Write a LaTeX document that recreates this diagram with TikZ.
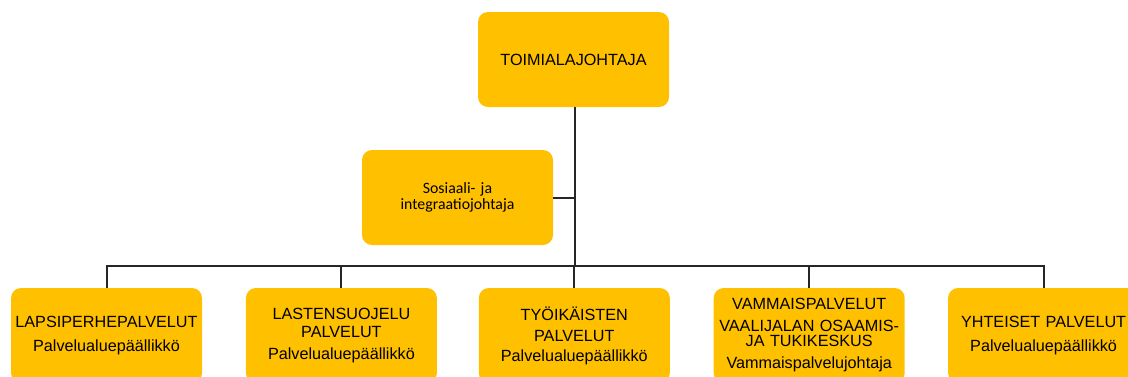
\documentclass[tikz,border=0pt]{standalone}
\usepackage{fontspec}
\setmainfont{Liberation Sans}
\newfontfamily\calibri{Carlito}
\usetikzlibrary{positioning}
\definecolor{gold}{HTML}{FFC000}
\tikzstyle{unit} = [fill=gold, rounded corners=10pt, minimum width=191pt, minimum height=95pt, text width=189pt, align=center, inner sep=0pt, font=\fontsize{16.2}{18}\selectfont]
\tikzstyle{link} = [line width=2pt, black!85]

\begin{document}
\begin{tikzpicture}[x=1pt, y=-1pt]
        \useasboundingbox (0,0) rectangle (1128,376);
        %Blocks
        \node [unit] (head) at (573.5,59.5) {TOIMIALAJOHTAJA};
        \node [unit, font=\calibri\fontsize{15.8}{15.5}\selectfont] (deputy) at (457.5,197.5) {Sosiaali- ja\\integraatiojohtaja};
        \node [unit] (family) at (106.5,335.5) {LAPSIPERHEPALVELUT\\[6pt]Palvelualuepäällikkö};
        \node [unit, right = 43.5pt of family] (child) {LASTENSUOJELU\\PALVELUT\\[4pt]Palvelualuepäällikkö};
        \node [unit, right = 41.5pt of child] (work) {TYÖIKÄISTEN\\[3pt]PALVELUT\\[2pt]Palvelualuepäällikkö};
        \node [unit, right = 43.5pt of work] (disab) {VAMMAISPALVELUT\\[4pt]VAALIJALAN OSAAMIS-\\[-3pt]JA TUKIKESKUS\\[4pt]Vammaispalvelujohtaja};
        \node [unit, right = 43pt of disab] (common) {YHTEISET PALVELUT\\[6pt]Palvelualuepäällikkö};
        \coordinate (bus) at (575,266);
        %Lines
        \draw[link] (head.south -| bus) -- (bus);
        \draw[link] (deputy.east) -- (deputy.east -| bus);
        \draw[link] (family.north) |- (bus);
        \draw[link] (child.north) |- (bus);
        \draw[link] (work.north) -- (work.north |- bus);
        \draw[link] (disab.north) |- (bus);
        \draw[link] (common.north) |- (bus);
    \end{tikzpicture}
\end{document}
